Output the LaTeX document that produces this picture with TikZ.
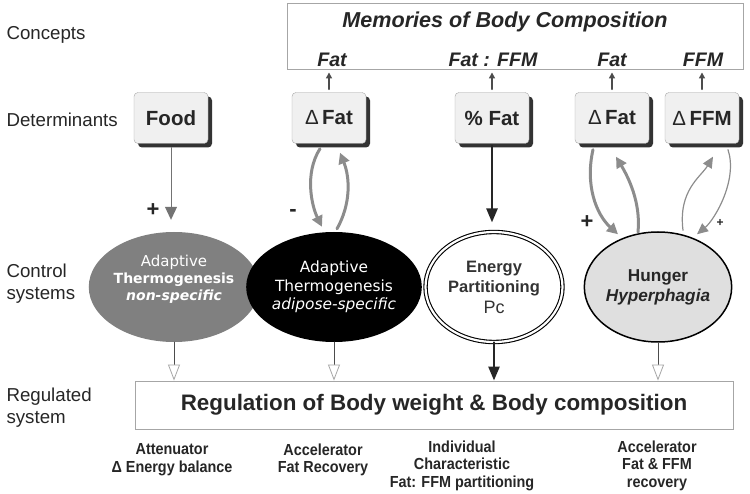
\documentclass[tikz,border=0pt]{standalone}
\usepackage{fontspec}
\setmainfont{Liberation Sans}
\newfontfamily\verdana{DejaVu Sans}
\newfontfamily\narrow[FakeStretch=0.9]{Liberation Sans}
\usetikzlibrary{positioning,arrows.meta,shapes.geometric,shadows,calc}

\begin{document}
\begin{tikzpicture}
[x=1pt,y=-1pt,line cap=round,
det/.style={draw=gray!70,fill=gray!12,rounded corners=4pt,minimum width=74pt,
  minimum height=51pt,font=\fontsize{20.5}{22}\selectfont\bfseries,text=black!85,
  drop shadow={shadow xshift=4pt,shadow yshift=-4pt,fill=black!80,opacity=1}},
ctrl/.style={ellipse,minimum width=137pt,minimum height=110pt,align=center,inner sep=0pt},
membox/.style={draw=gray!70,line width=0.9pt},
side/.style={anchor=west,align=left,font=\fontsize{18.7}{22}\selectfont,text=black!85},
note/.style={anchor=north,align=center,font=\narrow\fontsize{16}{17.5}\selectfont\bfseries,text=black!85},
memo/.style={font=\fontsize{19.6}{21}\selectfont\bfseries\itshape,text=black!85},
sign/.style={font=\fontsize{22}{22}\selectfont\bfseries,text=black!85}]
% Colors
\colorlet{loopcolor}{black!45}
\colorlet{linecolor}{black!70}
\tikzset{
uparr/.style={-{Triangle[length=6pt,width=6pt]},line width=1.6pt,linecolor,shorten >=3pt,shorten <=3pt},
feed/.style={-{Triangle[length=13pt,width=12pt]},line width=1pt,black!55,shorten >=12pt,shorten <=4pt},
fbk/.style={-{Triangle[length=11pt,width=11pt]},line width=3pt,loopcolor},
fbkthin/.style={-{Triangle[length=11pt,width=10pt]},line width=1.2pt,loopcolor},
outarr/.style={-{Triangle[length=16pt,width=12pt,fill=white,color=gray!70,line width=0.8pt]},line width=1pt,linecolor},
mainarr/.style={-{Triangle[length=14pt,width=11pt]},line width=2.5pt,black!85}}
\useasboundingbox (0,0) rectangle (750,494);
% Row labels
\node[side] (lconc) at (3,35) {Concepts};
\node[side] (ldet) at (3,120) {Determinants};
\node[side] (lctrl) at (3,284) {Control\\systems};
\node[side] (lreg) at (3,408) {Regulated\\system};
% Concepts
\node[membox,minimum width=456pt,minimum height=66pt] (mem) at (515,36) {};
\node[memo,font=\fontsize{21.6}{23}\selectfont\bfseries\itshape] (memtitle) at (505,22) {Memories of Body Composition};
\node[memo] (mfat) at (332,60) {Fat};
\node[memo] (mratio) at (493,60) {Fat : FFM};
\node[memo] (mfat2) at (612,60) {Fat};
\node[memo] (mffm) at (703,60) {FFM};
% Determinants
\node[det] (food) at (171,118) {Food};
\node[det] (dfat) at (329,118) {{\mdseries Δ}\,Fat};
\node[det] (pfat) at (492,118) {\% Fat};
\node[det] (hfat) at (612,118) {{\mdseries Δ}\,Fat};
\node[det] (hffm) at (702,118) {{\mdseries Δ}\,FFM};
\foreach \n in {dfat,pfat,hfat,hffm}
\draw[uparr] (\n.north) -- (\n.north |- mem.south);
% Control systems
\node[ctrl,fill=black!50,text=white,font=\verdana\fontsize{14}{17}\selectfont] (atn) at (174,287)
{{\fontsize{15}{17}\selectfont Adaptive}\\\textbf{Thermogenesis}\\\textbf{\textit{non-specific}}\\[2pt]\mbox{}};
\node[ctrl,fill=black,text=white,font=\verdana\fontsize{15.4}{18.5}\selectfont] (ats) at (334,287)
{Adaptive\\Thermogenesis\\\textit{adipose-specific}};
\node[ctrl,draw=black,double=white,double distance=2.2pt,line width=1.1pt,text=black!80,
font=\fontsize{16.5}{20.5}\selectfont\bfseries] (enp) at (494,287)
{Energy\\Partitioning\\\mdseries\fontsize{18}{21}\selectfont Pc};
\node[ctrl,draw=black,line width=1.5pt,fill=gray!25,text=black!85,
font=\fontsize{17.2}{20}\selectfont\bfseries] (hun) at (658,287) {Hunger\\\textit{Hyperphagia}};
% Determinants -> control systems
\draw[feed] (food.south) -- (food.south |- atn.north);
\node[sign] (pfood) at (153,210) {+};
\draw[fbk] ($(dfat.south)+(-9,5)$) .. controls +(-16,25) and +(-10,-20) .. ($(ats.north)+(-12,-5)$);
\draw[fbk] ($(ats.north)+(3,-3)$) .. controls +(14,-25) and +(10,25) .. ($(dfat.south)+(11,9)$);
\node[sign] (mfatl) at (293,213) {-};
\draw[mainarr,shorten >=9pt,shorten <=2pt] (pfat.south) -- (pfat.south |- enp.north);
\draw[fbk] ($(hfat.south)+(-19,6)$) .. controls +(-8,35) and +(-22,-20) .. ($(hun.north)+(-40,3)$);
\draw[fbk] ($(hun.north)+(-20,1)$) .. controls +(3,-30) and +(12,20) .. ($(hfat.south)+(4,13)$);
\draw[fbkthin] ($(hun.north)+(25,-1)$) .. controls +(-5,-40) and +(-12,20) .. ($(hffm.south)+(11,13)$);
\draw[fbkthin] ($(hffm.south)+(26,6)$) .. controls +(10,30) and +(18,-15) .. ($(hun.north)+(39,3)$);
\node[sign] (phfat) at (587,222) {+};
\node[sign,font=\fontsize{12}{12}\selectfont\bfseries] (phffm) at (720,223) {+};
% Regulated system
\node[membox,minimum width=598pt,minimum height=48pt,text=black!85,
font=\fontsize{22.4}{26}\selectfont\bfseries] (reg) at (434,405) {Regulation of Body weight \& Body composition};
\draw[outarr] (atn.south) -- (atn.south |- reg.north);
\draw[outarr] (ats.south) -- (ats.south |- reg.north);
\draw[mainarr] (enp.south) -- (enp.south |- reg.north);
\draw[outarr] (hun.south) -- (hun.south |- reg.north);
\node[note] (n1) at (172,440) {Attenuator\\Δ Energy balance};
\node[note] (n2) at (323,440) {Accelerator\\Fat Recovery};
\node[note] (n3) at (462,437) {Individual\\Characteristic\\Fat: FFM partitioning};
\node[note] (n4) at (657,437) {Accelerator\\Fat \& FFM\\recovery};
\end{tikzpicture}
\end{document}
